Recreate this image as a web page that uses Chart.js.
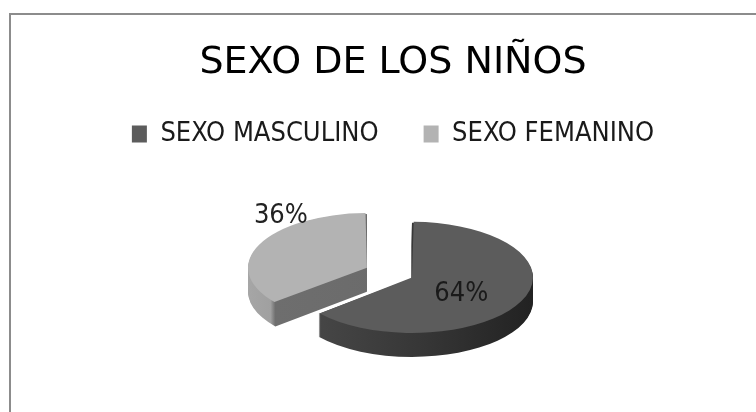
<!DOCTYPE html>
<html>
<head>
<meta charset="utf-8">
<script src="https://cdn.jsdelivr.net/npm/chart.js@4.4.0/dist/chart.umd.min.js"></script>
<style>
  body { margin: 0; background: #fff; overflow: hidden; }
  #frame { position: absolute; left: 9px; top: 13px; width: 800px; height: 450px; border-top: 2px solid #8c8c8c; border-left: 2px solid #8c8c8c; }
  #chart { position: absolute; left: 0; top: 0; }
</style>
</head>
<body>
<div id="frame"></div>
<canvas id="chart" width="756" height="412"></canvas>
<script>
var labels = ['SEXO MASCULINO', 'SEXO FEMANINO'];
var values = [64, 36];
var chartTitle = 'SEXO DE LOS NIÑOS';

var tilt = 0.459;   // vertical squash of the pie
var depth = 24;     // thickness of the pie in px
var pieShiftX = 9;  // the pie sits a bit right of the title
var narrow = "'Liberation Sans Narrow', 'DejaVu Sans Condensed', sans-serif";

// where chart.js really puts an exploded arc (same maths as ArcElement.draw)
function sliceGeom(arc) {
    var mid = (arc.startAngle + arc.endAngle) / 2;
    var off = (arc.options.offset || 0) / 4;
    var fix = 1 - Math.sin(Math.min(Math.PI, arc.circumference || 0));
    return {
        x: arc.x + Math.cos(mid) * off,
        y: arc.y + Math.sin(mid) * off,
        r: arc.outerRadius + off * fix,
        mid: mid
    };
}

var pie3d = {
    id: 'pie3d',
    beforeDatasetsDraw: function(chart) {
        var ctx = chart.ctx;
        var arcs = chart.getDatasetMeta(0).data;
        var cx = arcs[0].x, cy = arcs[0].y;
        ctx.save();
        ctx.translate(cx + pieShiftX, cy);
        ctx.scale(1, tilt);
        ctx.translate(-cx, -cy);

        // side walls, back slice first
        [1, 0].forEach(function(i) {
            var a = arcs[i];
            var s = sliceGeom(a);
            var r = s.r;
            var g = ctx.createLinearGradient(s.x - r, 0, s.x + r, 0);
            if (i == 0) {
                g.addColorStop(0, '#4a4a4a');
                g.addColorStop(0.55, '#363636');
                g.addColorStop(1, '#222222');
            } else {
                var corner = (Math.cos(a.startAngle) + 1) / 2;
                g.addColorStop(0, '#a6a6a6');
                g.addColorStop(Math.max(0, corner - 0.02), '#a0a0a0');
                g.addColorStop(corner, '#6e6e6e');
                g.addColorStop(1, '#686868');
            }
            ctx.fillStyle = g;
            for (var k = depth; k > 0; k--) {
                ctx.beginPath();
                ctx.moveTo(s.x, s.y + k / tilt);
                ctx.arc(s.x, s.y + k / tilt, r, a.startAngle, a.endAngle);
                ctx.closePath();
                ctx.fill();
            }
        });
    },
    afterDatasetsDraw: function(chart) {
        var ctx = chart.ctx;
        ctx.restore();

        var arcs = chart.getDatasetMeta(0).data;
        var total = values.reduce(function(p, v) { return p + v; }, 0);
        ctx.save();
        ctx.font = '27px ' + narrow;
        ctx.textAlign = 'center';
        arcs.forEach(function(a, i) {
            var s = sliceGeom(a);
            var r = s.r;
            var vx = s.x + pieShiftX;
            var vy = a.y + (s.y - a.y) * tilt;
            var txt = Math.round(values[i] / total * 100) + '%';
            if (values[i] / total > 0.5) {
                ctx.fillStyle = '#1a1a1a';
                ctx.textBaseline = 'middle';
                ctx.fillText(txt, vx + Math.cos(s.mid) * r * 0.45, vy + Math.sin(s.mid) * r * 0.45 * tilt + 6);
            } else {
                var ux = Math.cos(s.mid) * 0.8;
                var uy = Math.sign(Math.sin(s.mid)) * Math.sqrt(1 - ux * ux);
                ctx.fillStyle = '#222222';
                ctx.textBaseline = 'bottom';
                ctx.fillText(txt, vx + ux * r, vy + uy * r * tilt - 1);
            }
        });
        ctx.restore();
    }
};

var ctx = document.getElementById('chart').getContext('2d');

var myPieChart = new Chart(ctx, {
    type: 'pie',
    data: {
        labels: labels,
        datasets: [{
            data: values,
            backgroundColor: ['#5c5c5c', '#b3b3b3'],
            borderWidth: 0,
            offset: [44, 155],
            radius: 110,
            clip: false
        }]
    },
    options: {
        responsive: false,
        animation: false,
        layout: { padding: { left: 30, right: 0, top: 0, bottom: 19 } },
        plugins: {
            title: {
                display: true,
                text: chartTitle,
                color: '#000000',
                font: { family: "'DejaVu Sans', sans-serif", size: 38, weight: 'normal', lineHeight: 1 },
                padding: { top: 44, bottom: -6.5 }
            },
            legend: {
                position: 'top',
                labels: {
                    color: '#1a1a1a',
                    font: { family: narrow, size: 27 },
                    boxWidth: 15,
                    boxHeight: 17,
                    padding: 45
                }
            },
            tooltip: { enabled: false }
        }
    },
    plugins: [pie3d]
});
</script>
</body>
</html>
